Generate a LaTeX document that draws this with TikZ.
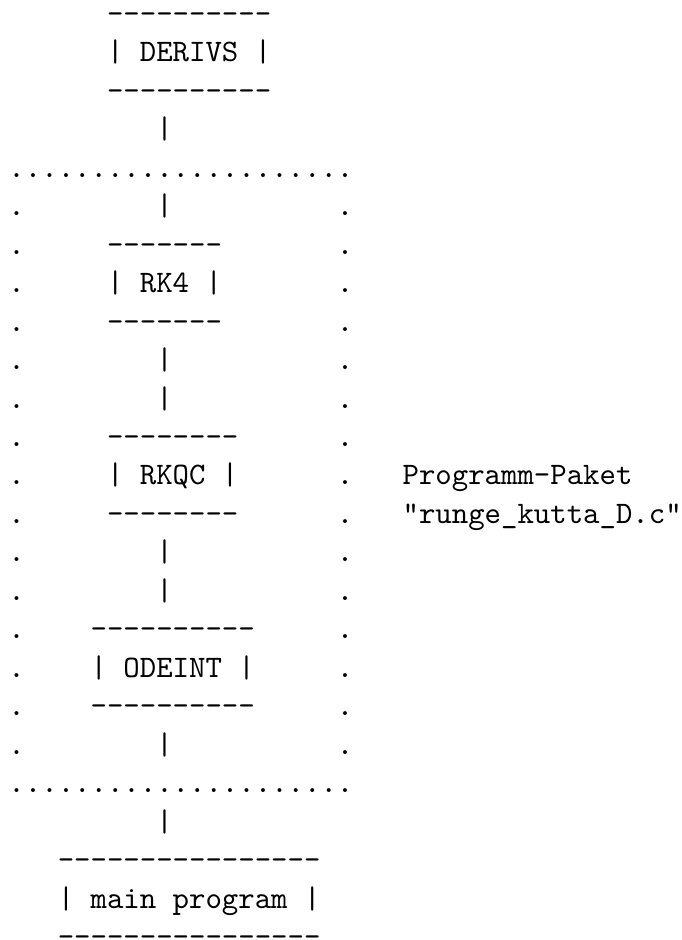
\documentclass[tikz,border=0pt]{standalone}
\begin{document}
\begin{tikzpicture}[
  x=16.42pt, y=-38.47pt,
  % 10pt Latin Modern Mono, enlarged as a whole
  tt/.style={font=\fontsize{10}{12}\selectfont\ttfamily,
    scale=3.128, transform shape,
    anchor=base west, inner sep=0pt, outer sep=0pt}
]
\useasboundingbox (0pt,0pt) rectangle (681pt,-940pt);
\begin{scope}[shift={(8.5pt,-23.3pt)}]
  % DERIVS box
  \node[tt] (derivsTop) at (6,0)  {----------};
  \node[tt] (derivs)    at (6,1)  {| DERIVS |};
  \node[tt] (derivsBot) at (6,2)  {----------};
  \node[tt] (barA)      at (9,3)  {|};
  % dotted frame of the package
  \node[tt] (frameTop)  at (0,4)  {.....................};
  \foreach \r in {5,...,19}{
    \node[tt] (frameL\r) at (0,\r)  {.};
    \node[tt] (frameR\r) at (20,\r) {.};
  }
  \node[tt] (frameBot)  at (0,20) {.....................};
  % RK4 box
  \node[tt] (barB)      at (9,5)  {|};
  \node[tt] (rkTop)     at (6,6)  {-------};
  \node[tt] (rk)        at (6,7)  {| RK4 |};
  \node[tt] (rkBot)     at (6,8)  {-------};
  \node[tt] (barC)      at (9,9)  {|};
  \node[tt] (barD)      at (9,10) {|};
  % RKQC box
  \node[tt] (rkqcTop)   at (6,11) {--------};
  \node[tt] (rkqc)      at (6,12) {| RKQC |};
  \node[tt] (rkqcBot)   at (6,13) {--------};
  \node[tt] (barE)      at (9,14) {|};
  \node[tt] (barF)      at (9,15) {|};
  % ODEINT box
  \node[tt] (odeTop)    at (5,16) {----------};
  \node[tt] (ode)       at (5,17) {| ODEINT |};
  \node[tt] (odeBot)    at (5,18) {----------};
  \node[tt] (barG)      at (9,19) {|};
  % main program box
  \node[tt] (barH)      at (9,21) {|};
  \node[tt] (mainTop)   at (3,22) {----------------};
  \node[tt] (main)      at (3,23) {| main program |};
  \node[tt] (mainBot)   at (3,24) {----------------};
  % package label
  \node[tt] (pkgA)      at (24,12) {Programm-Paket};
  \node[tt] (pkgB)      at (24,13) {"runge\symbol{95}kutta\symbol{95}D.c"};
\end{scope}
\end{tikzpicture}
\end{document}
